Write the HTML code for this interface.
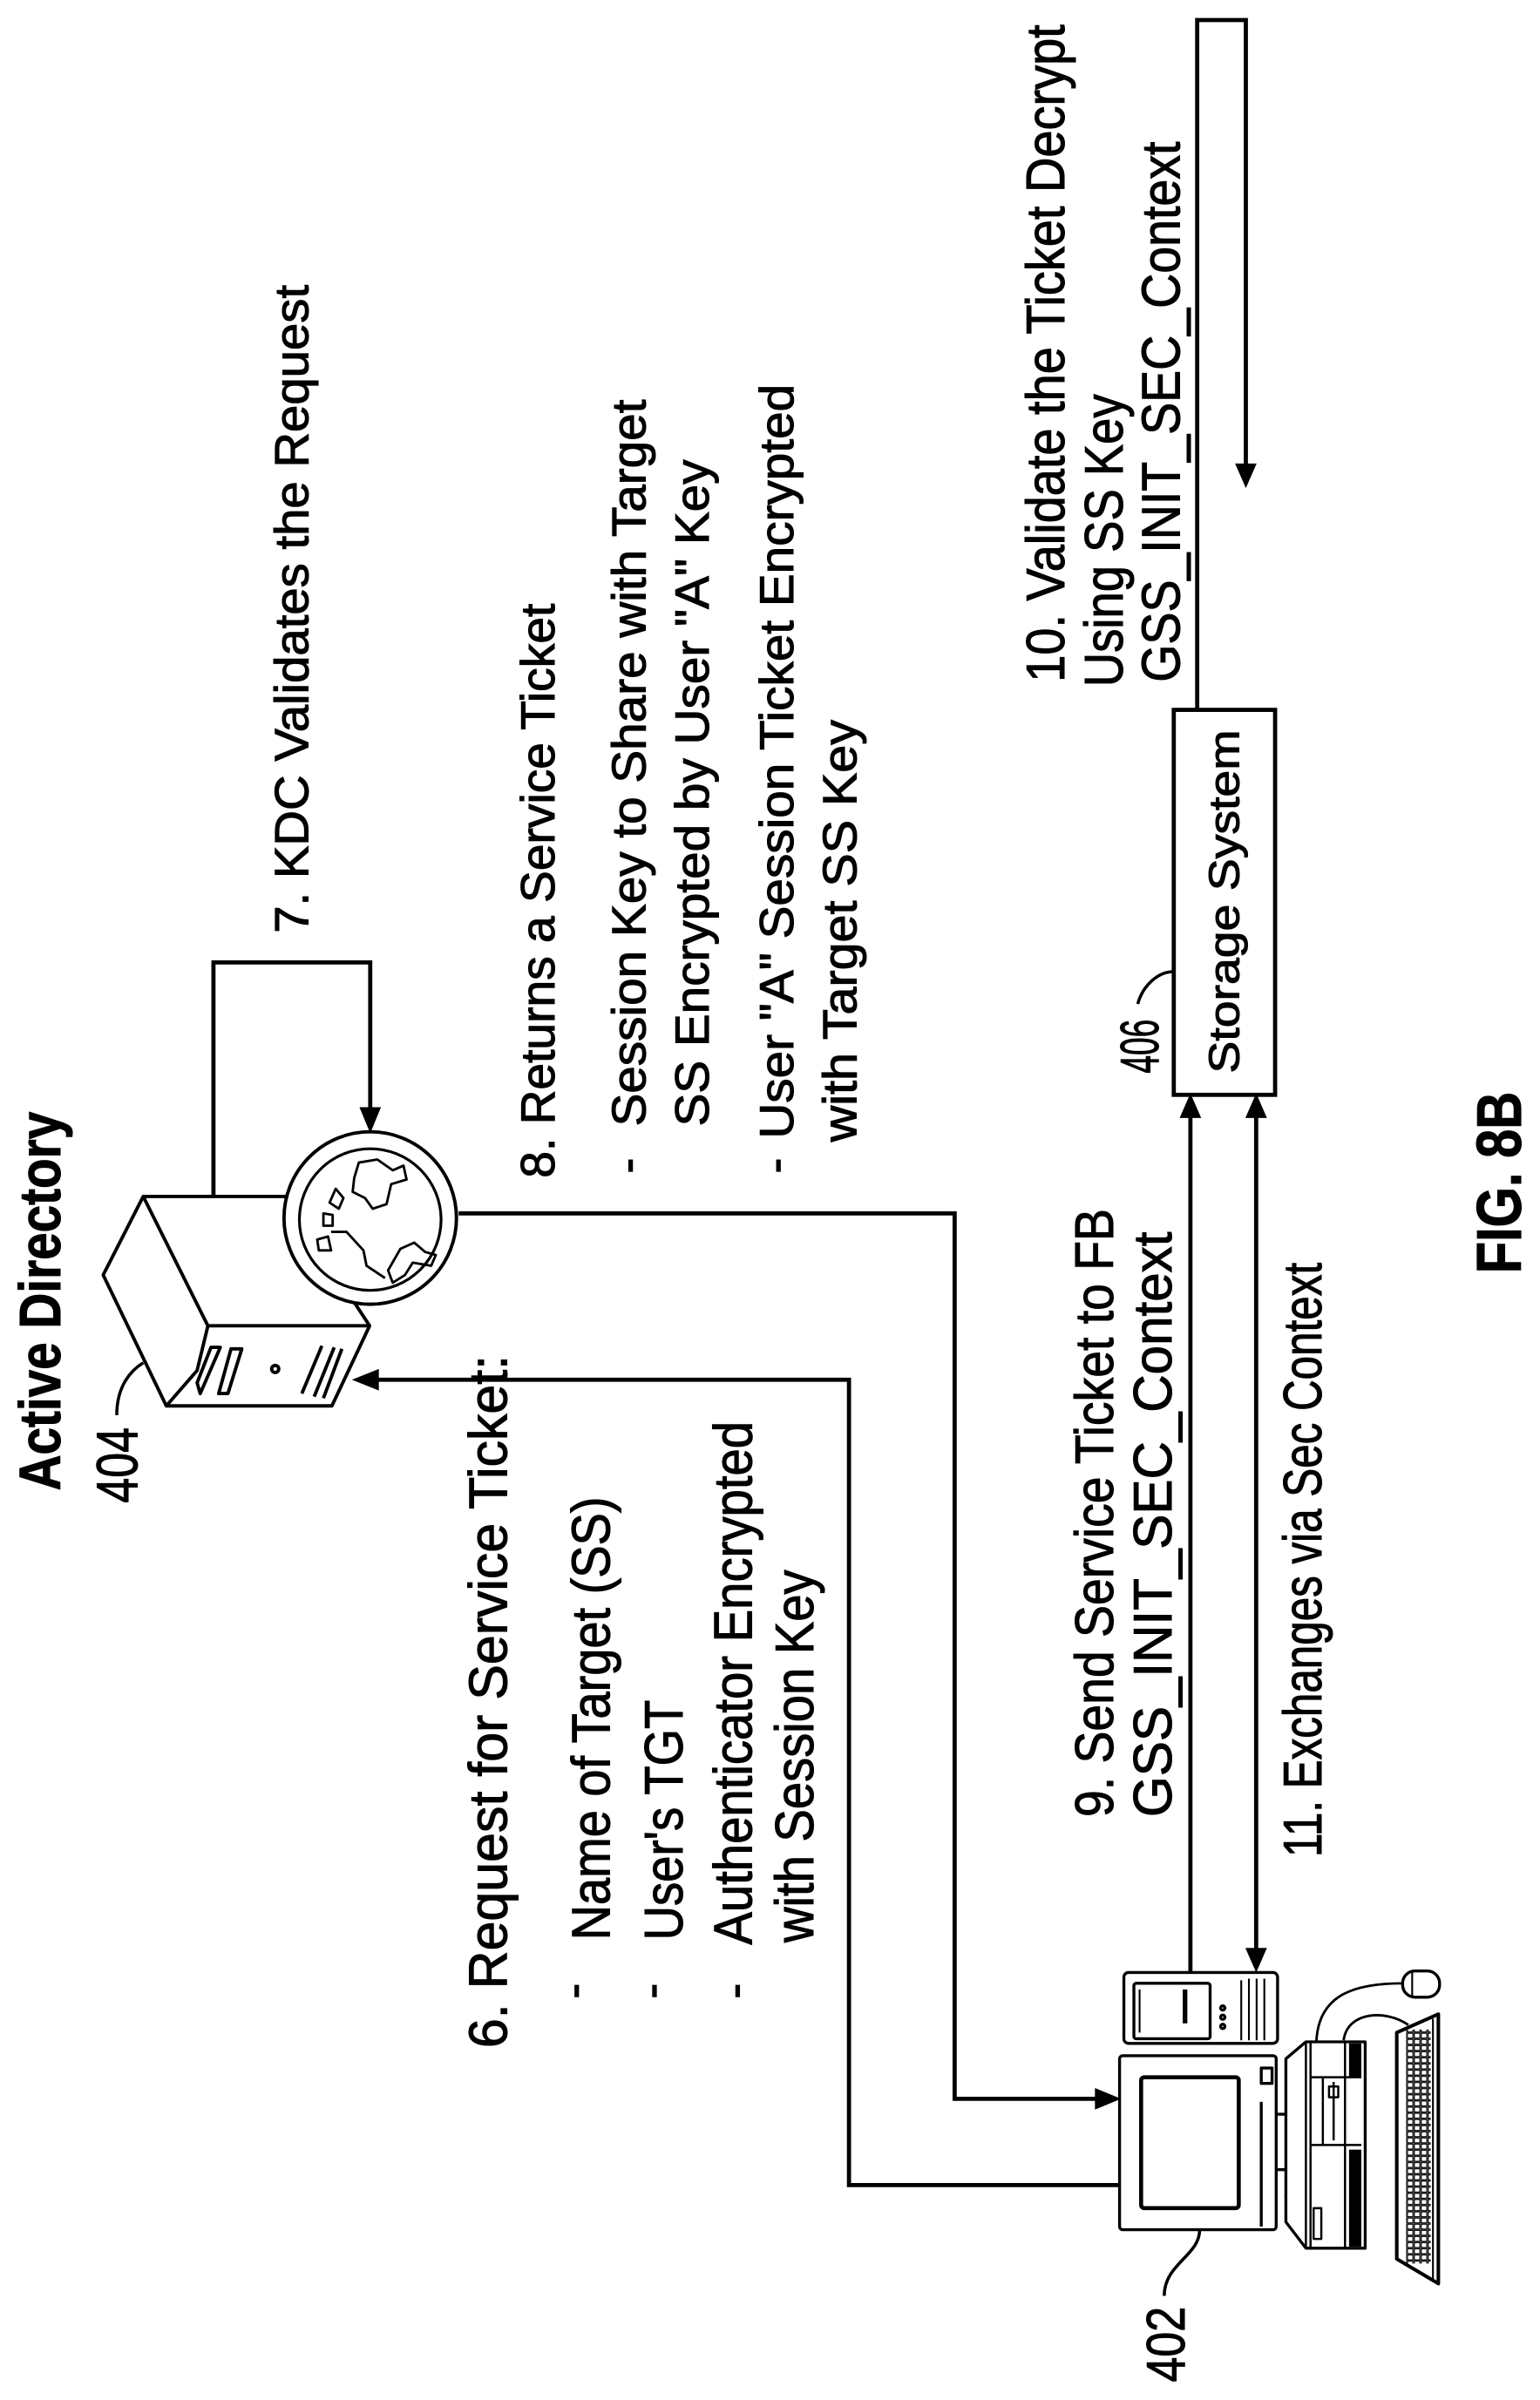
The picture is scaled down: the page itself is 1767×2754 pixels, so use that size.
<!DOCTYPE html>
<html><head><meta charset="utf-8"><style>
html,body{margin:0;padding:0;background:#fff;}
svg{display:block;}
text{font-family:"Liberation Sans",Arial,sans-serif;fill:#000;stroke:#000;stroke-width:0.6;}
</style></head><body>
<svg width="1767" height="2754" viewBox="0 0 1000 1558.6" xmlns="http://www.w3.org/2000/svg">
<defs>
<pattern id="keys" x="0" y="0" width="4.5" height="4" patternUnits="userSpaceOnUse">
<rect x="0.4" y="0.4" width="3.6" height="3.2" fill="none" stroke="#000" stroke-width="0.7"/>
</pattern>
</defs>
<g fill="none" stroke="#000" stroke-width="2.7" stroke-linejoin="miter">
<polyline points="138.6,777 138.6,625 240.4,625 240.4,722"/>
<polyline points="727,1419 551.3,1419 551.3,896 244,896"/>
<polyline points="297.8,788 619.9,788 619.9,1363 712,1363"/>
<line x1="773" y1="1281" x2="773" y2="724"/>
<line x1="815.7" y1="724" x2="815.7" y2="1268"/>
<polyline points="777.4,461 777.4,13 809,13 809,303"/>
<rect x="762.2" y="461" width="65.8" height="250"/>
<path d="M75.8,919 C75.8,900 85,890 93,885" stroke-width="2"/>
<path d="M738.8,652 C742,640 752,631 762,631" stroke-width="2"/>
<path d="M756,1491 C756,1470 779,1465 779,1448" stroke-width="2"/>
</g>
<g fill="#000" stroke="none">
<polygon points="240.4,736 233.4,719 247.4,719"/>
<polygon points="228.5,896 246,889 246,903"/>
<polygon points="728,1363 711,1356 711,1370"/>
<polygon points="773,710 766,726 780,726"/>
<polygon points="815.7,710 808.7,726 822.7,726"/>
<polygon points="815.7,1281 808.7,1265 822.7,1265"/>
<polygon points="809,317 802,301 816,301"/>
</g>

<g fill="#fff" stroke="#000" stroke-width="2.2" stroke-linejoin="round">
<polygon points="93,777 185,777 240,861 215.5,913 108,913 67,828"/>
<polyline points="93,777 135,861 240,861" fill="none"/>
<polyline points="135,861 128,890 108,913" fill="none"/>
<circle cx="178.7" cy="889" r="2.3"/>
<polygon points="130,905 140,882 143,875 137,875 128,898"/>
<polygon points="142,905 150,876 157,876 148,905"/>
<path d="M196,905 L209,874 M204,907 L217,875 M210,908 L222,876" fill="none"/>
<circle cx="240.4" cy="791" r="56"/>
<circle cx="240.4" cy="792" r="46" stroke-width="1.8"/>
<path d="M233,755 L245,753 L255,760 L262,757 L264,766 L254,769 L251,782 L242,785 L237,778 L229,774 L230,765 Z" stroke-width="1.6" fill="none"/>
<path d="M260,811 L269,807 L276,813 L283,815 L280,822 L268,820 L263,828 L255,833 L252,825 Z" stroke-width="1.6" fill="none"/>
<path d="M218,772 L223,778 L220,785 L214,781 Z M206,805 L213,803 L215,812 L207,812 Z M210,788 L216,789 L216,796 L210,796 Z" stroke-width="1.6" fill="none"/>
<path d="M215,800 L225,800 L236,812 L238,822 L250,830" stroke-width="1.6" fill="none"/>
</g>

<g fill="#fff" stroke="#000" stroke-width="1.9" stroke-linejoin="round">
<rect x="729.8" y="1281" width="99.8" height="46" rx="3"/>
<rect x="736.3" y="1288" width="49.5" height="36" rx="1.5"/>
<line x1="740" y1="1292" x2="740" y2="1320" stroke-width="1.2"/>
<rect x="768" y="1292" width="3" height="22" fill="#000" stroke="none"/>
<path d="M806,1286 V1325 M811,1285 V1325 M816,1285 V1325 M821,1285 V1325" stroke-width="1.2"/>
<circle cx="794" cy="1304" r="1.4"/><circle cx="794" cy="1310" r="1.4"/><circle cx="794" cy="1316" r="1.4"/>
<rect x="727" y="1335" width="101.7" height="113" rx="2"/>
<rect x="741" y="1349" width="63.4" height="85" rx="2" stroke-width="2.6"/>
<rect x="819" y="1343" width="7" height="10"/>
<line x1="819" y1="1365" x2="819" y2="1446"/>
<path d="M828.7,1373 H835 M828.7,1409 H835"/>
<path d="M835,1356 Q850,1391 835,1426 Q840,1391 835,1356 Z" fill="#000"/>
<polygon points="835,1337 848,1326 886.5,1326 886.5,1460 848,1460 835,1443"/>
<path d="M848,1326 V1460 M851,1326 V1460 M873.4,1326 V1460" stroke-width="1.4"/>
<rect x="876" y="1327" width="8" height="22" fill="#000" stroke="none"/>
<rect x="876" y="1396" width="8" height="63" fill="#000" stroke="none"/>
<path d="M851,1349 H884 M851,1393 H884 M859,1349 V1393" stroke-width="1.4"/>
<rect x="853" y="1434" width="5" height="20" stroke-width="1.4"/>
<path d="M866,1352 V1390 M863,1355 H869 V1362 H863 Z" stroke-width="1.4"/>
<path d="M854.8,1326 C856,1295 880,1288 910.8,1288" fill="none" stroke-width="1.6"/>
<path d="M872.5,1325 C875,1306 900,1305 914.5,1315" fill="none" stroke-width="1.6"/>
<rect x="910.8" y="1280" width="24" height="17" rx="8"/>
<line x1="917" y1="1280" x2="917" y2="1297" stroke-width="1.2"/>
<polygon points="907,1320 934,1308 934,1483 907,1467" stroke-width="2.3"/>
<rect x="913" y="1318" width="16" height="152" fill="url(#keys)" stroke="none"/>
<line x1="930.5" y1="1311" x2="930.5" y2="1481" stroke-width="1.2"/>
</g>

<g stroke="#000" stroke-width="3">
<line x1="409.5" y1="753" x2="409.5" y2="761"/>
<line x1="505.5" y1="753" x2="505.5" y2="761"/>
<line x1="374.5" y1="1289" x2="374.5" y2="1297"/>
<line x1="425" y1="1289" x2="425" y2="1297"/>
<line x1="479" y1="1289" x2="479" y2="1297"/>
</g>

<g font-size="31">
<text transform="translate(39,968) rotate(-90)" font-size="38" font-weight="bold" textLength="246" lengthAdjust="spacingAndGlyphs">Active Directory</text>
<text transform="translate(89,976) rotate(-90)" font-size="38" textLength="49" lengthAdjust="spacingAndGlyphs">404</text>
<text transform="translate(200,606) rotate(-90)" textLength="421" lengthAdjust="spacingAndGlyphs">7. KDC Validates the Request</text>
<text transform="translate(360,765) rotate(-90)" textLength="373" lengthAdjust="spacingAndGlyphs">8. Returns a Service Ticket</text>
<text transform="translate(419,731.5) rotate(-90)" textLength="472" lengthAdjust="spacingAndGlyphs">Session Key to Share with Target</text>
<text transform="translate(460,731.5) rotate(-90)" textLength="433" lengthAdjust="spacingAndGlyphs">SS Encrypted by User "A" Key</text>
<text transform="translate(515,739.5) rotate(-90)" textLength="490" lengthAdjust="spacingAndGlyphs">User "A" Session Ticket Encrypted</text>
<text transform="translate(556,741.5) rotate(-90)" textLength="274" lengthAdjust="spacingAndGlyphs">with Target SS Key</text>
</g>
<g font-size="35">
<text transform="translate(329,1330) rotate(-90)" textLength="450" lengthAdjust="spacingAndGlyphs">6. Request for Service Ticket:</text>
<text transform="translate(396,1260) rotate(-90)" textLength="288" lengthAdjust="spacingAndGlyphs">Name of Target (SS)</text>
<text transform="translate(443,1260) rotate(-90)" textLength="156" lengthAdjust="spacingAndGlyphs">User's TGT</text>
<text transform="translate(488,1263) rotate(-90)" textLength="340" lengthAdjust="spacingAndGlyphs">Authenticator Encrypted</text>
<text transform="translate(528,1261.5) rotate(-90)" textLength="242" lengthAdjust="spacingAndGlyphs">with Session Key</text>
<text transform="translate(722.7,1180) rotate(-90)" textLength="395" lengthAdjust="spacingAndGlyphs">9. Send Service Ticket to FB</text>
<text transform="translate(760.6,1180) rotate(-90)" textLength="380" lengthAdjust="spacingAndGlyphs">GSS_INIT_SEC_Context</text>
<text transform="translate(858,1206) rotate(-90)" textLength="386" lengthAdjust="spacingAndGlyphs">11. Exchanges via Sec Context</text>
<text transform="translate(691,443) rotate(-90)" textLength="427" lengthAdjust="spacingAndGlyphs">10. Validate the Ticket Decrypt</text>
<text transform="translate(729,446) rotate(-90)" textLength="190" lengthAdjust="spacingAndGlyphs">Using SS Key</text>
<text transform="translate(766,443) rotate(-90)" textLength="351" lengthAdjust="spacingAndGlyphs">GSS_INIT_SEC_Context</text>
<text transform="translate(804.5,697) rotate(-90)" font-size="28" textLength="223" lengthAdjust="spacingAndGlyphs">Storage System</text>
<text transform="translate(752,697) rotate(-90)" textLength="35" lengthAdjust="spacingAndGlyphs">406</text>
<text transform="translate(769,1547) rotate(-90)" textLength="49" lengthAdjust="spacingAndGlyphs">402</text>
<text transform="translate(987.6,827) rotate(-90)" font-size="41" font-weight="bold" textLength="118" lengthAdjust="spacingAndGlyphs">FIG. 8B</text>
</g>
</svg>
</body></html>
